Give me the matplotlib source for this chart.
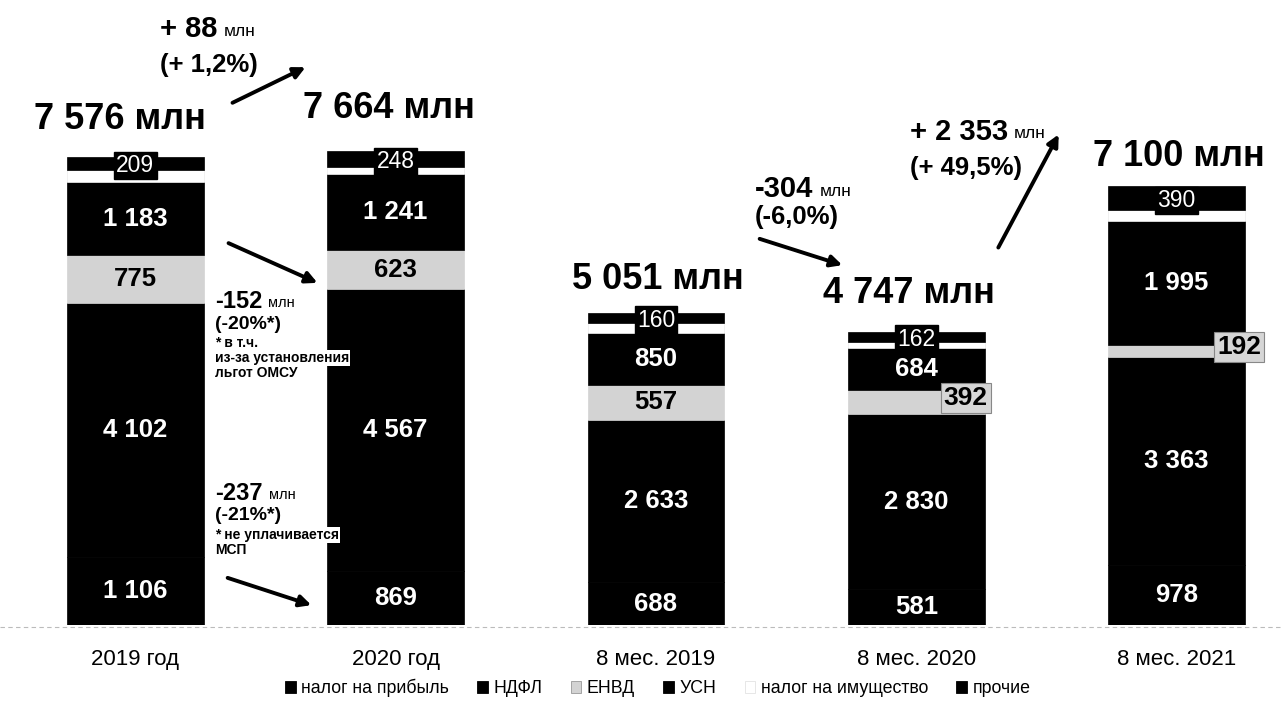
import numpy as np
import matplotlib.pyplot as plt
from matplotlib.patches import Patch, FancyArrowPatch

plt.rcParams['font.family'] = ['Liberation Sans', 'DejaVu Sans']

periods = ['2019 год', '2020 год', '8 мес. 2019', '8 мес. 2020', '8 мес. 2021']
series = ['налог на прибыль', 'НДФЛ', 'ЕНВД', 'УСН', 'налог на имущество', 'прочие']
profit = [1106, 869, 688, 581, 978]
ndfl = [4102, 4567, 2633, 2830, 3363]
envd = [775, 623, 557, 392, 192]
usn = [1183, 1241, 850, 684, 1995]
property_tax = [201, 116, 163, 98, 182]
other = [209, 248, 160, 162, 390]
totals = [7576, 7664, 5051, 4747, 7100]

colors = ['#000000', '#000000', '#d3d3d3', '#000000', '#ffffff', '#000000']


def fmt(v):
    return f"{v:,}".replace(',', ' ')


W, H = 1282, 710
fig = plt.figure(figsize=(W / 100, H / 100), dpi=100)
ax = fig.add_axes([0, 85 / H, 1, 1 - 85 / H])
ax.set_xlim(-0.52, 4.405)
ax.set_ylim(0, 10110)
ax.axis('off')

x = np.arange(len(periods))
data = [profit, ndfl, envd, usn, property_tax, other]
bottom = np.zeros(len(periods))
bars = []
for vals, name, c in zip(data, series, colors):
    ax.bar(x, vals, width=0.525, bottom=bottom, color=c, label=name,
           edgecolor='#ececec' if c == '#ffffff' else c, linewidth=0.5)
    bars.append((vals, bottom.copy()))
    bottom += np.array(vals)

# baseline
ax.plot([-0.52, 4.405], [-40, -40], color='#bbbbbb', lw=0.8, ls=(0, (4, 3)), clip_on=False)

# segment labels
for i in range(len(periods)):
    for k in (0, 1, 3):
        vals, bot = bars[k]
        ax.text(x[i], bot[i] + vals[i] / 2, fmt(vals[i]), ha='center', va='center',
                color='white', fontsize=18.5, fontweight='bold')
    vals, bot = bars[2]
    if i < 3:
        ax.text(x[i], bot[i] + vals[i] / 2, fmt(vals[i]), ha='center', va='center',
                color='black', fontsize=18.5, fontweight='bold')
    else:
        ax.text(x[i] + (0.19 if i == 3 else 0.24), bot[i] + vals[i] / 2 + 60, fmt(vals[i]),
                ha='center', va='center', color='black', fontsize=19, fontweight='bold',
                bbox=dict(boxstyle='square,pad=0.12', fc='#d6d6d6', ec='#888888', lw=0.8))
    vals, bot = bars[5]
    ax.text(x[i], bot[i] + vals[i] / 2 - 40, fmt(vals[i]), ha='center', va='center',
            color='white', fontsize=16.5,
            bbox=dict(boxstyle='square,pad=0.1', fc='black', ec='black'))

# totals
tot_offsets = [(-15, 37), (-7, 43), (2, 33), (-7, 38), (2, 30)]
for i, t in enumerate(totals):
    dx, dy = tot_offsets[i]
    ax.annotate(fmt(t) + ' млн', xy=(x[i], t), xytext=(dx * 0.72, dy * 0.72),
                textcoords='offset points', ha='center', va='center',
                fontsize=26, fontweight='bold')

renderer = fig.canvas.get_renderer()


def ftxt(px, py, s, size, bold=True, unit=None, usize=12.5, boxed=False):
    kw = {}
    if boxed:
        kw['bbox'] = dict(boxstyle='square,pad=0.05', fc='white', ec='none')
    t = fig.text(px / W, 1 - py / H, s, fontsize=size,
                 fontweight='bold' if bold else 'normal', ha='left', va='center', **kw)
    if unit:
        bb = t.get_window_extent(renderer)
        fig.text((bb.x1 + 6) / W, 1 - (py + 2) / H, unit, fontsize=usize,
                 ha='left', va='center')


def arrow(x0, y0, x1, y1):
    fig.add_artist(FancyArrowPatch(
        (x0 / W, 1 - y0 / H), (x1 / W, 1 - y1 / H), transform=fig.transFigure,
        arrowstyle='-|>', mutation_scale=17, lw=2.8, color='black'))


# +88
ftxt(160, 29, '+ 88', 21, unit='млн')
ftxt(160, 65, '(+ 1,2%)', 18.5)
arrow(230, 104, 308, 66)

# -152
ftxt(215, 301, '-152', 17, unit='млн', usize=10.5)
ftxt(215, 324, '(-20%*)', 14)
ftxt(215, 343, '* в т.ч.', 10)
ftxt(215, 358, 'из-за установления', 10, boxed=True)
ftxt(215, 373, 'льгот ОМСУ', 10)
arrow(226, 242, 320, 284)

# -237
ftxt(215, 493, '-237', 17, unit='млн', usize=10.5)
ftxt(215, 516, '(-21%*)', 14)
ftxt(215, 535, '* не уплачивается', 10, boxed=True)
ftxt(215, 550, 'МСП', 10)
arrow(225, 577, 314, 606)

# -304
ftxt(755, 189, '-304', 21, unit='млн')
ftxt(755, 217, '(-6,0%)', 18.5)
arrow(757, 238, 845, 266)

# +2353
ftxt(910, 132, '+ 2 353', 21, unit='млн')
ftxt(910, 168, '(+ 49,5%)', 18.5)
arrow(997, 250, 1060, 132)

# category labels
for i, p in enumerate(periods):
    ax.text(x[i], -560, p, ha='center', va='center', fontsize=16)

handles = [Patch(facecolor=c, edgecolor='#999999' if c != '#000000' else c, lw=0.6)
           for c in colors]
handles[4] = Patch(facecolor='white', edgecolor='#dddddd', lw=0.5)
fig.legend(handles, series, loc='center', bbox_to_anchor=(0.513, 1 - 688 / H), ncol=6,
           frameon=False, fontsize=12.8, handlelength=0.6, handleheight=0.6,
           handletextpad=0.3, columnspacing=1.6)

fig.savefig('out.png', dpi=100)
